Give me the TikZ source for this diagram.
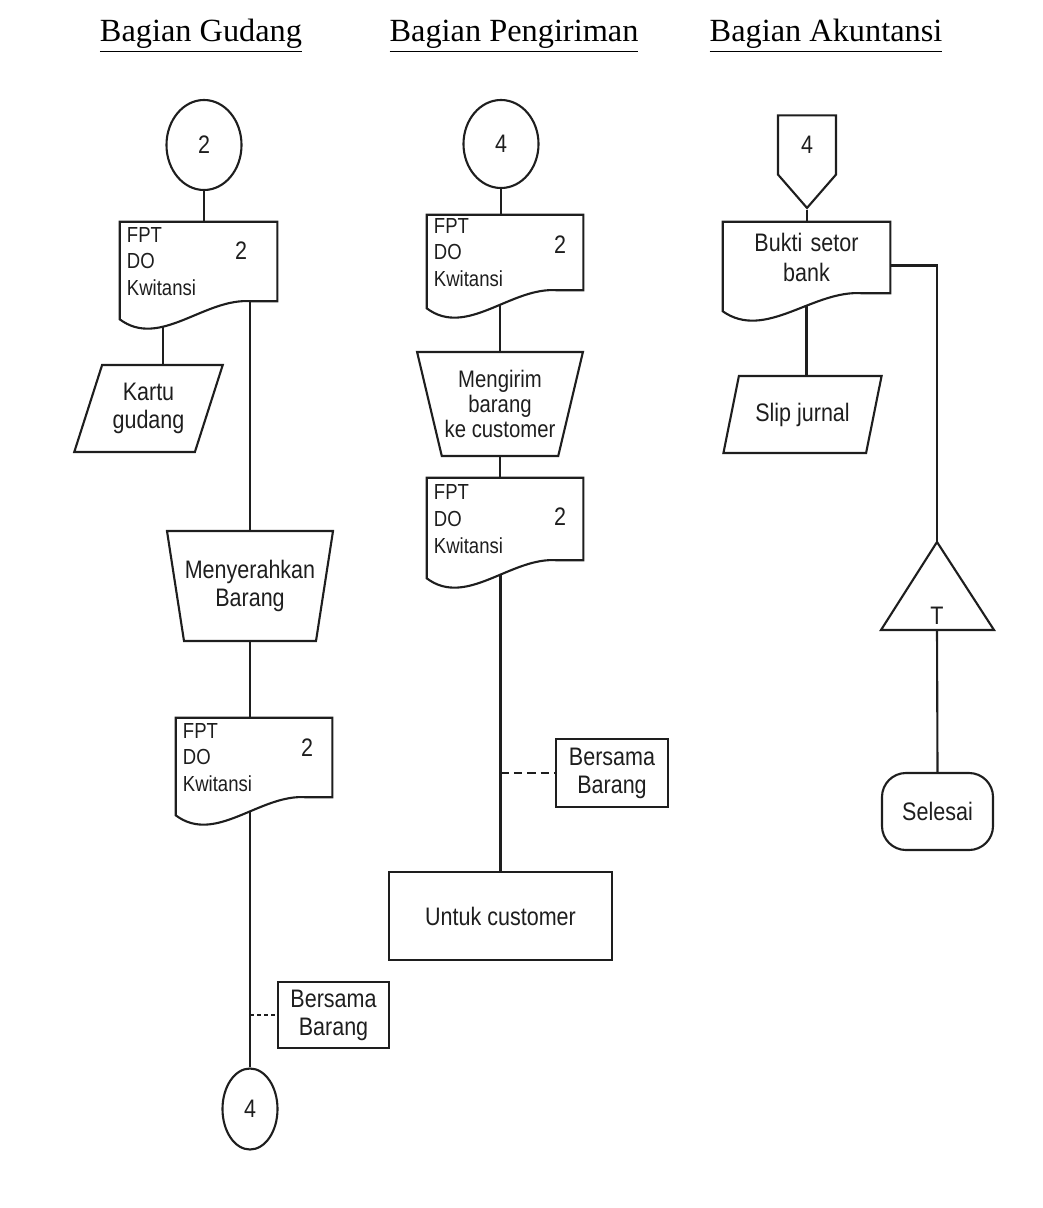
\documentclass[tikz,border=0pt]{standalone}
\usepackage{fontspec}
\setmainfont{Liberation Serif}
\newfontfamily\boxfont[FakeStretch=0.85]{Liberation Sans}
\usetikzlibrary{shapes.geometric, shapes.symbols, calc, backgrounds}
\definecolor{inkline}{HTML}{1E1E1E}

% document symbol with wavy bottom, drawn round a named node
\newcommand{\docshape}[1]{%
  \draw[flow, fill=white] (#1.north west) -- (#1.north east) -- (#1.south east)
    -- ($(#1.south west)!0.835!(#1.south east)$)
    .. controls ($(#1.south west)!0.54!(#1.south east)+(0,-4)$)
       and ($(#1.south west)!0.255!(#1.south east)+(0,48)$)
    .. ($(#1.south west)+(0,18)$) -- cycle;}

\begin{document}
\begin{tikzpicture}[x=0.025cm, y=-0.025cm,
    flow/.style={draw=inkline, line width=1.5pt},
    lbl/.style={font=\boxfont\fontsize{18}{20}\selectfont, text=inkline, align=center, inner sep=0pt},
    doc/.style={lbl, font=\boxfont\fontsize{15.5}{19}\selectfont, align=left, inner xsep=0.175cm, inner ysep=0pt},
    head/.style={font=\fontsize{23}{27}\selectfont, anchor=base, inner sep=0pt},
    io/.style={lbl, flow, trapezium, trapezium stretches},
    box/.style={lbl, flow, rectangle}]
  \useasboundingbox (0,0) rectangle (1043,1208);

  \node[head] (hgud) at (201,42) {\underline{Bagian Gudang}};
  \node[head] (hkir) at (514,42) {\underline{Bagian Pengiriman}};
  \node[head] (hakt) at (826,42) {\underline{Bagian Akuntansi}};

  % Bagian Gudang
  \node[lbl, flow, ellipse, minimum width=1.875cm, minimum height=2.25cm] (gcon) at (204,145) {2};
  \node[doc, text width=3.575cm, minimum height=1.975cm] (gdoc1) at (198.5,261.5) {FPT\\DO\\Kwitansi};
  \node[lbl] (gnum1) at (241,251) {2};
  \node[io, trapezium left angle=67, trapezium right angle=113,
        minimum width=3.725cm, minimum height=2.175cm] (gkartu) at (148.5,408.5) {Kartu\\gudang};
  \node[io, trapezium left angle=108, trapezium right angle=108,
        minimum width=4.15cm, minimum height=2.75cm] (gserah) at (250,586) {Menyerahkan\\Barang};
  \node[doc, text width=3.55cm, minimum height=1.975cm] (gdoc2) at (254,757.5) {FPT\\DO\\Kwitansi};
  \node[lbl] (gnum2) at (307,748) {2};
  \node[box, minimum width=2.775cm, minimum height=1.65cm] (gnote) at (333.5,1015) {Bersama\\Barang};
  \node[lbl, flow, ellipse, minimum width=1.375cm, minimum height=2.025cm] (gout) at (250,1109) {4};

  % Bagian Pengiriman
  \node[lbl, flow, ellipse, minimum width=1.875cm, minimum height=2.2cm] (kcon) at (501,144) {4};
  \node[doc, text width=3.55cm, minimum height=1.875cm] (kdoc1) at (505,252.5) {FPT\\DO\\Kwitansi};
  \node[lbl] (knum1) at (560,245) {2};
  \node[io, trapezium left angle=109, trapezium right angle=109,
        minimum width=4.15cm, minimum height=2.6cm,
        font=\boxfont\fontsize{17}{18}\selectfont] (kirim) at (500,404) {Mengirim\\barang\\ke customer};
  \node[doc, text width=3.55cm, minimum height=2.05cm] (kdoc2) at (505,519) {FPT\\DO\\Kwitansi};
  \node[lbl] (knum2) at (560,517) {2};
  \node[box, minimum width=2.8cm, minimum height=1.7cm] (knote) at (612,773) {Bersama\\Barang};
  \node[box, minimum width=5.575cm, minimum height=2.2cm] (kcust) at (500.5,916) {Untuk customer};

  % Bagian Akuntansi
  \node[lbl, flow, signal, signal to=south, signal pointer angle=82,
        minimum width=1.45cm, minimum height=1.65cm] (aoff) at (807,145) {4};
  \node[doc, align=center, font=\boxfont\fontsize{18}{21}\selectfont, text width=3.825cm,
        minimum height=1.775cm] (adoc) at (806.5,257.5) {Bukti setor\\bank};
  \node[io, trapezium left angle=64, trapezium right angle=116,
        minimum width=3.975cm, minimum height=1.925cm] (aslip) at (802.5,414.5) {Slip jurnal};
  \coordinate (atop) at (937,542);
  \coordinate (abase) at (937,630);
  \draw[flow, line join=miter] (atop) -- (994,630) -- (881,630) -- cycle;
  \node[lbl] (afile) at (937,616) {T};
  \node[box, rounded corners=0.6cm, minimum width=2.775cm, minimum height=1.925cm] (aend) at (937.5,811.5) {Selesai};

  \begin{pgfonlayer}{background}
    \draw[flow] (gcon.south) -- (gcon.south |- gdoc1.north);
    \draw[flow] (gkartu.top side) -- (gkartu.top side |- gdoc1.south);
    \draw[flow] (gserah.north) -- (gserah.north |- gdoc1.south);
    \draw[flow] (gserah.south) -- (gserah.south |- gdoc2.north);
    \draw[flow] (gout.north) -- (gout.north |- gdoc2.south);
    \draw[flow, line width=1pt, dash pattern=on 3pt off 2pt] (gnote.west -| gout.north) -- (gnote.west);

    \draw[flow] (kcon.south) -- (kcon.south |- kdoc1.north);
    \draw[flow] (kirim.north) -- (kirim.north |- kdoc1.south);
    \draw[flow] (kirim.south) -- (kirim.south |- kdoc2.north);
    \draw[flow] (kcust.north) -- (kcust.north |- kdoc2.south);
    \draw[flow, line width=1pt, dash pattern=on 6pt off 3.5pt] (knote.west -| kcust.north) -- (knote.west);

    \draw[flow] (aoff.south) -- (aoff.south |- adoc.north);
    \draw[flow] (adoc.south) -- (adoc.south |- aslip.north);
    \draw[flow] ([yshift=-0.2cm]adoc.east) -| (atop);
    \draw[flow] (abase) -- (aend.north);

    \docshape{gdoc1}
    \docshape{gdoc2}
    \docshape{kdoc1}
    \docshape{kdoc2}
    \docshape{adoc}
  \end{pgfonlayer}
\end{tikzpicture}
\end{document}
